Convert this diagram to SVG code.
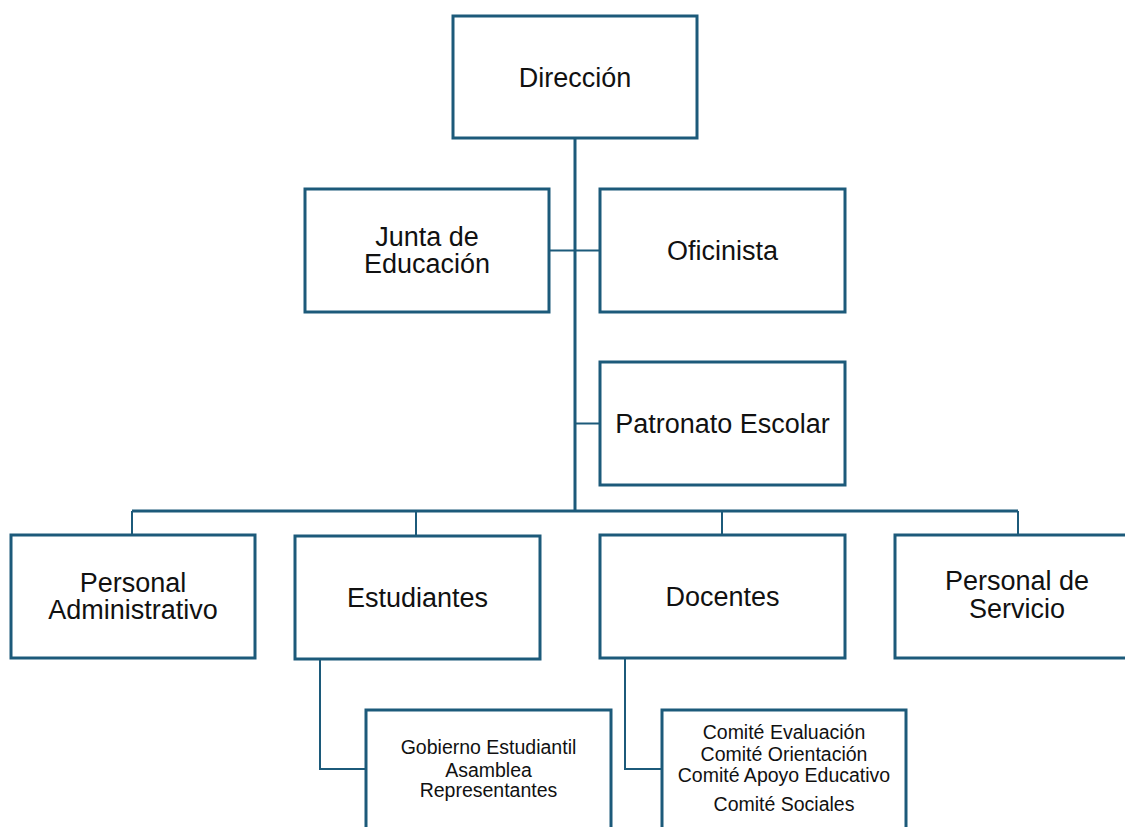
<svg xmlns="http://www.w3.org/2000/svg" width="1125" height="827" viewBox="0 0 1125 827">
<style>
.box{fill:#fff;stroke:#1c5a7a;stroke-width:3}
.t{font-family:"Liberation Sans",Arial,sans-serif;font-size:27px;fill:#111;text-anchor:middle}
.s{font-family:"Liberation Sans",Arial,sans-serif;font-size:19.5px;fill:#111;text-anchor:middle}
.c{fill:none;stroke:#1c5a7a;stroke-width:2}
.k{fill:none;stroke:#1c5a7a;stroke-width:3}
</style>
<rect width="1125" height="827" fill="#fff"/>
<g id="connectors">
<path class="k" d="M575 138V511"/>
<path class="c" d="M549 250.5H600M575 423.5H600"/>
<path class="k" d="M132 511H1018" stroke-width="2.5"/>
<path class="c" d="M132 511V535M416 511V536M722 511V535M1018 511V535"/>
<path class="c" d="M320 659V769H366M625 658V769H662"/>
</g>
<g id="direccion"><rect class="box" x="453" y="16" width="244" height="122"/><text class="t" x="575" y="86.5">Dirección</text></g>
<g id="junta"><rect class="box" x="305" y="189" width="244" height="123"/><text class="t" x="427" y="246">Junta de</text><text class="t" x="427" y="273">Educación</text></g>
<g id="oficinista"><rect class="box" x="600" y="189" width="245" height="123"/><text class="t" x="722.5" y="260">Oficinista</text></g>
<g id="patronato"><rect class="box" x="600" y="362" width="245" height="123"/><text class="t" x="722.5" y="433">Patronato Escolar</text></g>
<g id="personal-admin"><rect class="box" x="11" y="535" width="244" height="123"/><text class="t" x="133" y="592">Personal</text><text class="t" x="133" y="619">Administrativo</text></g>
<g id="estudiantes"><rect class="box" x="295" y="536" width="245" height="123"/><text class="t" x="417.5" y="607">Estudiantes</text></g>
<g id="docentes"><rect class="box" x="600" y="535" width="245" height="123"/><text class="t" x="722.5" y="606">Docentes</text></g>
<g id="personal-servicio"><rect class="box" x="895" y="535" width="244" height="123"/><text class="t" x="1017" y="590">Personal de</text><text class="t" x="1017" y="618">Servicio</text></g>
<g id="gobierno"><rect class="box" x="366" y="710" width="245" height="130"/><text class="s" x="488.5" y="754">Gobierno Estudiantil</text><text class="s" x="488.5" y="777">Asamblea</text><text class="s" x="488.5" y="797">Representantes</text></g>
<g id="comites"><rect class="box" x="662" y="710" width="244" height="130"/><text class="s" x="784" y="739">Comité Evaluación</text><text class="s" x="784" y="761">Comité Orientación</text><text class="s" x="784" y="782">Comité Apoyo Educativo</text><text class="s" x="784" y="811">Comité Sociales</text></g>
</svg>
